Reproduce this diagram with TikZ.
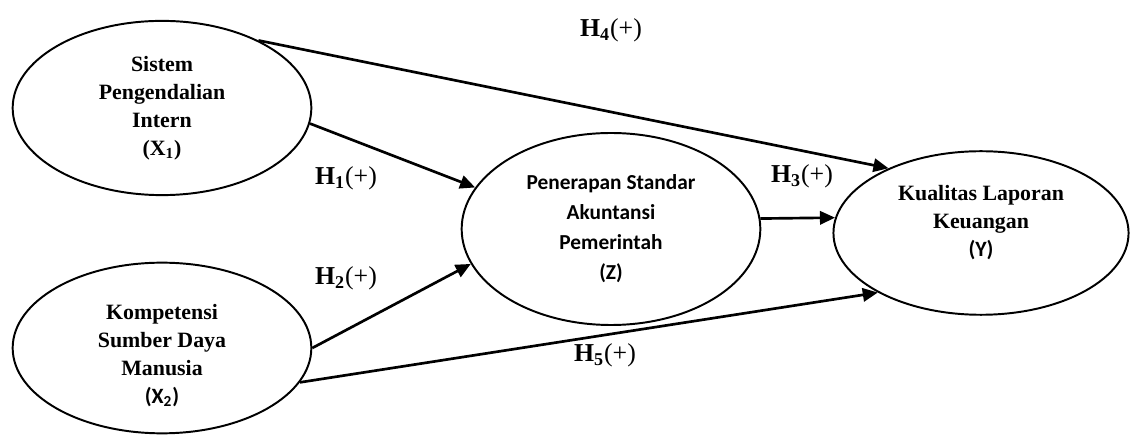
\documentclass[tikz,border=0pt]{standalone}
\usepackage{fontspec}
\setmainfont{Liberation Serif}
\newfontfamily\calibri{Carlito}
\usetikzlibrary{shapes.geometric, arrows.meta}

\newcommand{\shiftedlines}[2]{\raisebox{#1}[0pt][0pt]{\begin{tabular}{@{}c@{}}#2\end{tabular}}}

\begin{document}
\begin{tikzpicture}[
    x=0.5625pt, y=-0.5625pt,
    construct/.style={draw=black, line width=1.1pt, ellipse, inner sep=0pt, align=center, font=\fontsize{12.3}{15.75}\selectfont\bfseries},
    effect/.style={line width=1.5pt, -{Triangle[length=8.5pt, width=7.5pt]}},
    hyplabel/.style={font=\fontsize{14.5}{17}\selectfont}
]
\useasboundingbox (0,0) rectangle (1130,435);

% Knoten
\node[construct, minimum width=168pt, minimum height=98pt] (x1) at (162,108) {Sistem\\Pengendalian\\Intern\\(X\textsubscript{1})};
\node[construct, minimum width=168pt, minimum height=96pt] (x2) at (162,348) {\shiftedlines{-7.5pt}{Kompetensi\\Sumber Daya\\Manusia\\{\calibri (X\textsubscript{2})}}};
\node[construct, minimum width=168pt, minimum height=108pt, font=\fontsize{12}{16.9}\selectfont\calibri\bfseries] (z) at (611,229) {Penerapan Standar\\Akuntansi\\Pemerintah\\(Z)};
\node[construct, minimum width=166pt, minimum height=92pt] (y) at (981,233) {\shiftedlines{2.5pt}{Kualitas Laporan\\Keuangan\\{\calibri (Y)}}};

% Hipotesis
\node[hyplabel] (h1) at (346,178) {\textbf{H}\textsubscript{\textbf{1}}(+)};
\node[hyplabel] (h2) at (346,278) {\textbf{H}\textsubscript{\textbf{2}}(+)};
\node[hyplabel] (h3) at (802,176) {\textbf{H}\textsubscript{\textbf{3}}(+)};
\node[hyplabel] (h4) at (611,30) {\textbf{H}\textsubscript{\textbf{4}}(+)};
\node[hyplabel] (h5) at (605,355) {\textbf{H}\textsubscript{\textbf{5}}(+)};

% Kanten
\draw[effect] (x1.-6) -- (z.163);
\draw[effect] (x2.east) -- (z.194);
\draw[effect] (z.4) -- (y.174);
\draw[effect] (x1.35) -- (y.145);
\draw[effect] (x2.-14) -- (y.210);

\end{tikzpicture}
\end{document}
